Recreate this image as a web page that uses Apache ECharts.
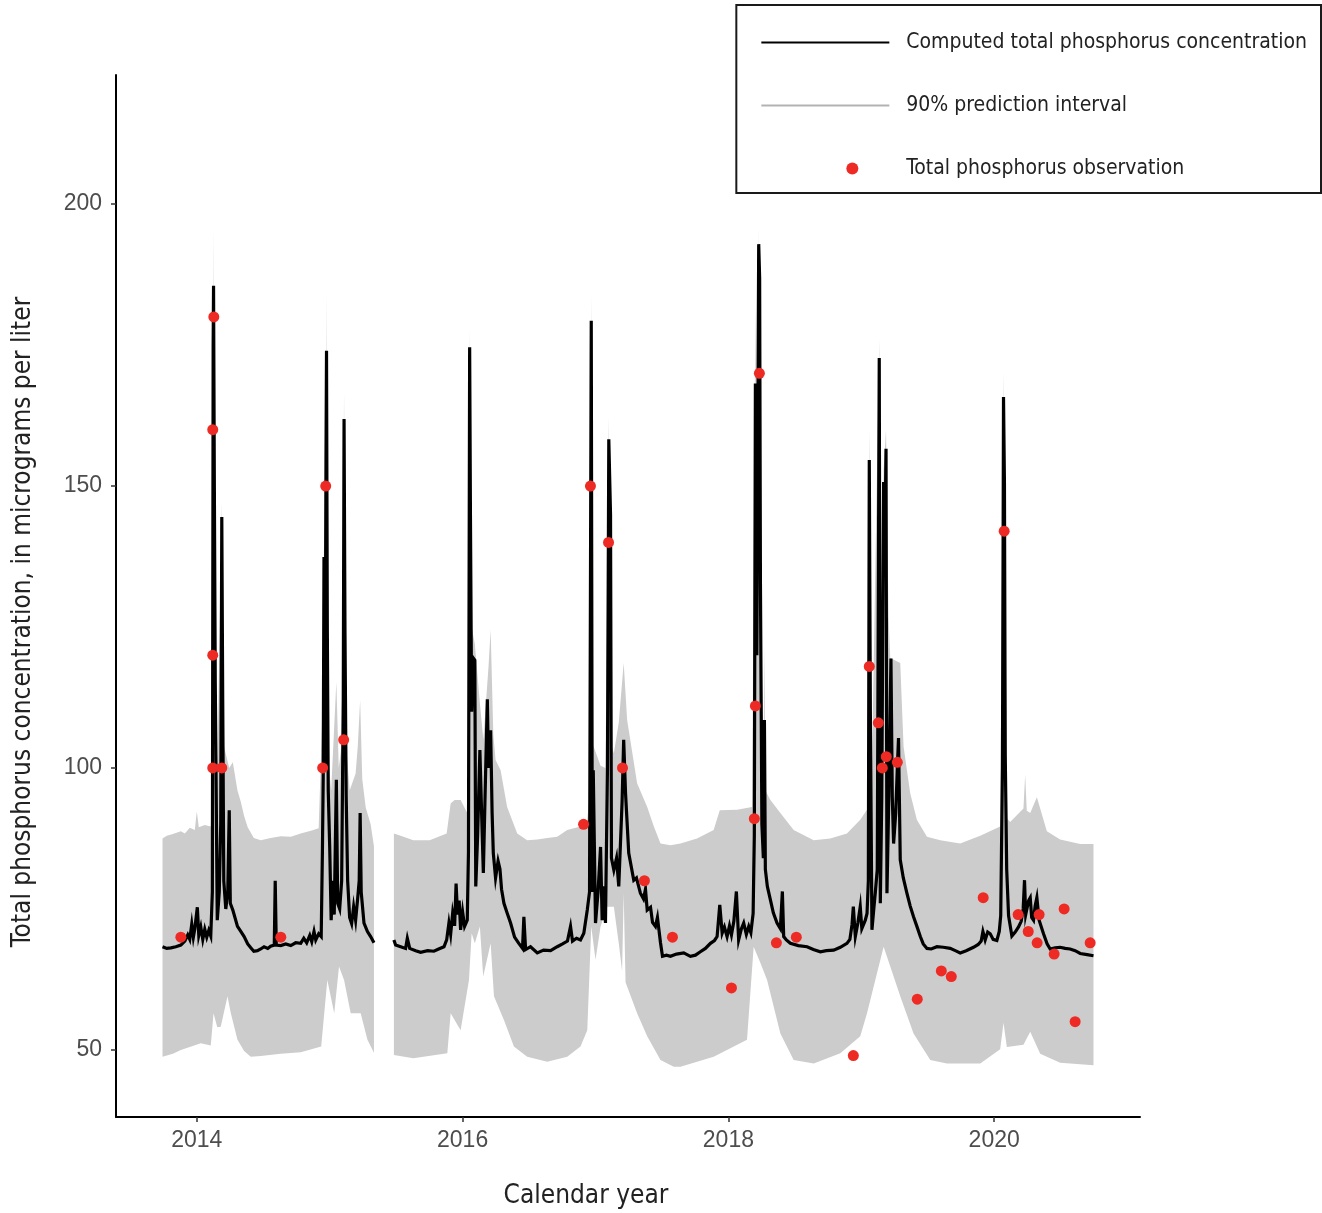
<!DOCTYPE html>
<html>
<head>
<meta charset="utf-8">
<script src="https://cdn.jsdelivr.net/npm/echarts@6/dist/echarts.min.js"></script>
<style>
  html, body { margin: 0; padding: 0; background: #fff; }
  #chart { width: 1322px; height: 1213px; }
</style>
</head>
<body>
<div id="chart"></div>
<script>
// computed total phosphorus concentration [decimal year, ug/L]
var computedSegA = [
  [2013.742, 68.3], [2013.774, 68.0], [2013.805, 68.1], [2013.842, 68.3], [2013.880, 68.6],
  [2013.910, 69.3], [2013.932, 70.4], [2013.947, 69.6], [2013.962, 72.3], [2013.974, 70.0],
  [2013.985, 71.5], [2014.004, 75.3], [2014.015, 70.3], [2014.030, 71.8], [2014.045, 69.6],
  [2014.060, 71.4], [2014.075, 70.0], [2014.090, 71.2], [2014.105, 70.2], [2014.117, 78.0],
  [2014.123, 174.7], [2014.126, 185.5], [2014.132, 150.0], [2014.139, 115.0], [2014.154, 73.0],
  [2014.169, 78.0], [2014.180, 90.0], [2014.188, 144.5], [2014.195, 112.0], [2014.203, 80.0],
  [2014.218, 75.0], [2014.233, 78.0], [2014.244, 92.5], [2014.252, 76.0], [2014.271, 74.8],
  [2014.306, 71.9], [2014.331, 71.0], [2014.356, 70.1], [2014.383, 68.8], [2014.406, 68.1],
  [2014.429, 67.5], [2014.456, 67.6], [2014.481, 67.9], [2014.506, 68.3], [2014.534, 68.0],
  [2014.556, 68.4], [2014.583, 68.6], [2014.590, 80.0], [2014.598, 68.6], [2014.632, 68.5],
  [2014.669, 68.8], [2014.707, 68.5], [2014.744, 69.0], [2014.782, 68.9], [2014.805, 69.8],
  [2014.827, 69.0], [2014.850, 70.3], [2014.865, 69.2], [2014.882, 71.0], [2014.895, 69.5],
  [2014.917, 70.6], [2014.936, 70.1], [2014.945, 85.0], [2014.951, 98.0], [2014.957, 137.4],
  [2014.964, 100.0], [2014.972, 155.0], [2014.976, 174.0], [2014.982, 124.8], [2014.989, 96.0],
  [2015.000, 86.0], [2015.011, 73.0], [2015.023, 80.0], [2015.034, 74.0], [2015.050, 97.9],
  [2015.060, 76.0], [2015.075, 75.0], [2015.090, 80.0], [2015.102, 112.0], [2015.108, 161.9],
  [2015.115, 124.0], [2015.124, 95.0], [2015.135, 80.0], [2015.150, 73.5], [2015.165, 72.4],
  [2015.180, 75.4], [2015.195, 73.0], [2015.211, 77.0], [2015.222, 80.0], [2015.229, 92.0],
  [2015.237, 78.0], [2015.258, 72.5], [2015.284, 71.0], [2015.308, 70.1], [2015.333, 69.0]
];
var computedSegB = [
  [2015.483, 69.5], [2015.496, 68.6], [2015.534, 68.3], [2015.571, 68.0], [2015.584, 69.8],
  [2015.602, 68.0], [2015.647, 67.6], [2015.684, 67.3], [2015.737, 67.6], [2015.784, 67.5],
  [2015.820, 67.9], [2015.860, 68.3], [2015.880, 69.5], [2015.897, 72.5], [2015.910, 70.5],
  [2015.925, 74.2], [2015.940, 72.0], [2015.951, 79.5], [2015.962, 74.0], [2015.974, 76.5],
  [2015.985, 71.3], [2016.000, 74.5], [2016.015, 71.9], [2016.035, 73.0], [2016.044, 85.0],
  [2016.048, 124.5], [2016.053, 174.6], [2016.059, 144.6], [2016.068, 110.0], [2016.080, 119.5],
  [2016.092, 119.1], [2016.099, 79.0], [2016.113, 88.0], [2016.130, 103.2], [2016.143, 92.0],
  [2016.156, 81.4], [2016.169, 95.0], [2016.186, 112.2], [2016.195, 100.0], [2016.211, 106.7],
  [2016.222, 92.0], [2016.231, 84.9], [2016.248, 80.5], [2016.267, 83.5], [2016.281, 82.1],
  [2016.293, 78.5], [2016.311, 76.0], [2016.335, 74.3], [2016.361, 72.5], [2016.391, 70.0],
  [2016.423, 68.9], [2016.451, 68.0], [2016.461, 73.6], [2016.474, 67.8], [2016.511, 68.3],
  [2016.562, 67.2], [2016.609, 67.7], [2016.662, 67.6], [2016.712, 68.3], [2016.752, 68.8],
  [2016.789, 69.3], [2016.812, 71.9], [2016.827, 69.3], [2016.857, 69.8], [2016.887, 69.5],
  [2016.912, 70.7], [2016.938, 74.8], [2016.955, 78.0], [2016.968, 179.3], [2016.976, 78.0],
  [2016.983, 99.6], [2017.000, 72.5], [2017.019, 78.0], [2017.038, 86.0], [2017.050, 73.0],
  [2017.062, 79.0], [2017.075, 72.5], [2017.090, 100.0], [2017.100, 158.3], [2017.113, 145.0],
  [2017.120, 84.0], [2017.138, 81.9], [2017.158, 84.0], [2017.175, 79.0], [2017.200, 94.0],
  [2017.212, 105.0], [2017.226, 95.5], [2017.250, 84.9], [2017.288, 80.1], [2017.308, 80.5],
  [2017.338, 77.8], [2017.361, 76.8], [2017.376, 78.5], [2017.389, 74.8], [2017.414, 75.3],
  [2017.429, 72.6], [2017.451, 71.9], [2017.466, 73.5], [2017.489, 69.0], [2017.504, 66.6],
  [2017.534, 66.8], [2017.564, 66.6], [2017.609, 67.0], [2017.664, 67.2], [2017.714, 66.6],
  [2017.752, 66.8], [2017.789, 67.4], [2017.827, 68.0], [2017.865, 68.9], [2017.895, 69.4],
  [2017.915, 70.1], [2017.935, 75.7], [2017.953, 70.7], [2017.970, 71.8], [2017.990, 70.1],
  [2018.008, 72.0], [2018.023, 70.4], [2018.041, 72.8], [2018.060, 78.1], [2018.077, 69.5],
  [2018.098, 71.5], [2018.115, 72.5], [2018.135, 70.5], [2018.153, 71.9], [2018.169, 70.8],
  [2018.186, 74.2], [2018.195, 88.0], [2018.203, 168.2], [2018.214, 120.0], [2018.221, 160.0],
  [2018.228, 192.9], [2018.235, 186.9], [2018.241, 132.7], [2018.252, 90.0], [2018.263, 84.0],
  [2018.271, 108.5], [2018.278, 82.0], [2018.293, 79.0], [2018.316, 76.6], [2018.338, 74.3],
  [2018.366, 72.5], [2018.391, 71.5], [2018.406, 78.1], [2018.416, 70.1], [2018.436, 69.5],
  [2018.466, 68.9], [2018.526, 68.5], [2018.592, 68.3], [2018.639, 67.8], [2018.692, 67.4],
  [2018.737, 67.6], [2018.792, 67.7], [2018.842, 68.2], [2018.892, 68.9], [2018.914, 69.6],
  [2018.930, 72.2], [2018.940, 75.4], [2018.955, 70.1], [2018.974, 72.5], [2018.992, 75.4],
  [2019.004, 71.5], [2019.017, 71.3], [2019.030, 73.0], [2019.043, 74.2], [2019.053, 80.0],
  [2019.060, 154.6], [2019.068, 110.0], [2019.080, 71.3], [2019.094, 75.0], [2019.105, 77.8],
  [2019.120, 82.0], [2019.135, 172.7], [2019.143, 76.0], [2019.154, 95.0], [2019.168, 150.7],
  [2019.175, 135.0], [2019.186, 156.6], [2019.193, 77.8], [2019.207, 95.0], [2019.223, 119.4],
  [2019.233, 95.0], [2019.243, 86.6], [2019.259, 92.0], [2019.271, 100.0], [2019.280, 105.3],
  [2019.293, 83.7], [2019.316, 80.5], [2019.343, 77.8], [2019.368, 75.5], [2019.393, 73.6],
  [2019.417, 72.0], [2019.444, 70.1], [2019.466, 68.8], [2019.494, 68.0], [2019.526, 67.9],
  [2019.569, 68.3], [2019.617, 68.2], [2019.669, 68.0], [2019.707, 67.6], [2019.744, 67.2],
  [2019.789, 67.6], [2019.844, 68.2], [2019.880, 68.7], [2019.902, 69.3], [2019.915, 71.0],
  [2019.932, 69.5], [2019.951, 70.9], [2019.970, 70.6], [2019.992, 69.6], [2020.020, 69.4],
  [2020.038, 71.0], [2020.049, 73.8], [2020.062, 100.0], [2020.070, 165.8], [2020.077, 150.6],
  [2020.083, 102.3], [2020.094, 82.0], [2020.108, 73.8], [2020.133, 70.2], [2020.158, 70.9],
  [2020.183, 71.8], [2020.203, 72.8], [2020.218, 75.0], [2020.228, 80.1], [2020.237, 74.0],
  [2020.246, 73.8], [2020.259, 76.5], [2020.271, 77.0], [2020.282, 73.5], [2020.296, 73.0],
  [2020.308, 75.5], [2020.321, 77.0], [2020.338, 73.0], [2020.371, 70.6], [2020.398, 68.8],
  [2020.421, 67.9], [2020.459, 68.1], [2020.496, 68.2], [2020.534, 68.0], [2020.571, 67.9],
  [2020.609, 67.6], [2020.647, 67.1], [2020.699, 66.9], [2020.747, 66.7]
];

// 90% prediction interval, upper and lower bounds [decimal year, ug/L]
var upperSegA = [
  [2013.742, 87.5], [2013.774, 88.0], [2013.820, 88.3], [2013.880, 88.8], [2013.910, 88.4],
  [2013.947, 89.4], [2013.985, 89.0], [2014.000, 92.3], [2014.015, 89.5], [2014.060, 89.9],
  [2014.105, 89.6], [2014.117, 95.0], [2014.126, 195.7], [2014.139, 120.0], [2014.154, 100.0],
  [2014.188, 147.0], [2014.203, 104.0], [2014.244, 100.0], [2014.271, 101.0], [2014.306, 96.0],
  [2014.331, 94.0], [2014.356, 91.5], [2014.383, 89.5], [2014.429, 87.6], [2014.481, 87.2],
  [2014.556, 87.6], [2014.632, 87.9], [2014.707, 87.8], [2014.782, 88.4], [2014.865, 88.9],
  [2014.917, 89.3], [2014.945, 109.7], [2014.957, 140.0], [2014.966, 105.0], [2014.976, 184.2],
  [2014.989, 102.0], [2015.011, 96.0], [2015.050, 115.3], [2015.068, 100.0], [2015.090, 104.0],
  [2015.108, 166.7], [2015.124, 104.0], [2015.150, 96.0], [2015.195, 99.0], [2015.211, 103.8],
  [2015.229, 112.0], [2015.245, 98.0], [2015.271, 93.0], [2015.308, 90.0], [2015.333, 86.1]
];
var lowerSegA = [
  [2013.742, 48.8], [2013.820, 49.3], [2013.880, 50.0], [2013.947, 50.5], [2014.030, 51.2],
  [2014.105, 50.8], [2014.126, 56.5], [2014.154, 54.0], [2014.180, 54.1], [2014.231, 59.5],
  [2014.256, 56.5], [2014.306, 51.8], [2014.356, 49.8], [2014.406, 48.8], [2014.481, 48.9],
  [2014.632, 49.3], [2014.782, 49.6], [2014.936, 50.6], [2014.982, 62.4], [2015.034, 56.5],
  [2015.070, 64.8], [2015.108, 62.4], [2015.158, 56.5], [2015.233, 56.5], [2015.284, 51.8],
  [2015.333, 49.5]
];
var upperSegB = [
  [2015.483, 88.4], [2015.534, 88.0], [2015.629, 87.2], [2015.752, 87.2], [2015.880, 88.4],
  [2015.910, 93.7], [2015.940, 94.3], [2015.985, 94.3], [2016.035, 92.0], [2016.048, 130.0],
  [2016.053, 178.0], [2016.068, 125.0], [2016.092, 122.0], [2016.130, 111.5], [2016.156, 105.0],
  [2016.195, 118.0], [2016.211, 124.5], [2016.231, 106.0], [2016.248, 101.4], [2016.286, 99.6],
  [2016.335, 93.1], [2016.411, 88.4], [2016.486, 87.2], [2016.562, 87.3], [2016.637, 87.6],
  [2016.712, 87.8], [2016.787, 89.0], [2016.887, 89.6], [2016.938, 90.8], [2016.955, 95.0],
  [2016.968, 184.0], [2016.983, 104.0], [2017.038, 100.4], [2017.075, 100.0], [2017.100, 162.3],
  [2017.120, 104.0], [2017.138, 102.6], [2017.175, 108.0], [2017.212, 118.6], [2017.238, 108.5],
  [2017.313, 97.3], [2017.389, 93.1], [2017.439, 89.6], [2017.489, 86.6], [2017.564, 86.3],
  [2017.639, 86.6], [2017.764, 87.5], [2017.889, 89.0], [2017.935, 92.5], [2018.065, 92.6],
  [2018.178, 93.1], [2018.203, 182.0], [2018.214, 130.0], [2018.228, 196.0], [2018.241, 138.0],
  [2018.263, 96.7], [2018.271, 121.5], [2018.278, 96.0], [2018.316, 94.3], [2018.391, 92.0],
  [2018.491, 89.0], [2018.642, 87.2], [2018.767, 87.5], [2018.892, 88.4], [2018.992, 90.8],
  [2019.043, 92.6], [2019.060, 160.0], [2019.080, 100.0], [2019.135, 176.0], [2019.150, 110.0],
  [2019.168, 153.0], [2019.186, 160.0], [2019.205, 126.8], [2019.218, 119.5], [2019.293, 118.6],
  [2019.318, 103.8], [2019.368, 95.5], [2019.418, 90.8], [2019.494, 87.8], [2019.594, 87.2],
  [2019.744, 86.6], [2019.895, 88.0], [2020.045, 89.6], [2020.070, 170.0], [2020.098, 91.0],
  [2020.120, 90.4], [2020.220, 92.8], [2020.233, 98.8], [2020.245, 92.4], [2020.271, 92.0],
  [2020.321, 94.8], [2020.396, 88.8], [2020.496, 87.3], [2020.647, 86.5], [2020.747, 86.5]
];
var lowerSegB = [
  [2015.483, 49.1], [2015.629, 48.5], [2015.885, 49.4], [2015.910, 56.5], [2015.985, 53.5],
  [2016.048, 62.4], [2016.068, 70.7], [2016.092, 68.9], [2016.130, 71.9], [2016.155, 63.0],
  [2016.211, 68.9], [2016.236, 59.5], [2016.311, 55.3], [2016.386, 50.6], [2016.486, 48.8],
  [2016.637, 47.9], [2016.787, 48.8], [2016.887, 50.6], [2016.938, 53.5], [2016.968, 71.9],
  [2017.000, 66.0], [2017.038, 71.9], [2017.088, 75.4], [2017.138, 75.4], [2017.175, 68.9],
  [2017.200, 64.0], [2017.212, 77.8], [2017.226, 62.0], [2017.313, 56.5], [2017.389, 52.4],
  [2017.489, 48.2], [2017.589, 47.0], [2017.639, 47.0], [2017.889, 48.8], [2018.140, 51.8],
  [2018.190, 68.3], [2018.241, 65.4], [2018.291, 62.4], [2018.391, 52.9], [2018.491, 48.2],
  [2018.642, 47.6], [2018.842, 49.4], [2018.992, 52.4], [2019.043, 56.5], [2019.118, 63.6],
  [2019.168, 68.3], [2019.218, 64.8], [2019.293, 59.5], [2019.393, 52.9], [2019.519, 48.2],
  [2019.644, 47.6], [2019.895, 47.6], [2020.045, 50.1], [2020.070, 54.8], [2020.095, 50.5],
  [2020.220, 50.9], [2020.271, 53.2], [2020.346, 49.3], [2020.496, 47.7], [2020.747, 47.3]
];

// total phosphorus observations [decimal year, ug/L]
var observations = [
  [2013.880, 70], [2014.128, 180], [2014.120, 160], [2014.120, 120], [2014.120, 100],
  [2014.188, 100], [2014.632, 70], [2014.947, 100], [2014.970, 150], [2015.105, 105],
  [2016.910, 90], [2016.962, 150], [2017.098, 140], [2017.203, 100], [2017.368, 80],
  [2017.579, 70], [2018.023, 61], [2018.195, 91], [2018.203, 111], [2018.233, 170],
  [2018.361, 69], [2018.511, 70], [2018.940, 49], [2019.060, 118], [2019.128, 108],
  [2019.158, 100], [2019.188, 102], [2019.271, 101], [2019.421, 59], [2019.602, 64],
  [2019.677, 63], [2019.917, 77], [2020.075, 142], [2020.180, 74], [2020.256, 71],
  [2020.323, 69], [2020.338, 74], [2020.451, 67], [2020.526, 75], [2020.609, 55],
  [2020.722, 69]
];

var xTicks = [2014, 2016, 2018, 2020];
var yTicks = [50, 100, 150, 200];

// record gap between the two monitoring periods
var GAP = [2015.41, null];
var computed = computedSegA.concat([GAP], computedSegB);
var bandSegments = [
  { upper: upperSegA, lower: lowerSegA },
  { upper: upperSegB, lower: lowerSegB },
];

var condensed = "'Liberation Sans Narrow', 'DejaVu Sans Condensed', 'Arial Narrow', sans-serif";
var tickFont = "'Liberation Sans', Arial, sans-serif";
var hidden = { color: "rgba(0,0,0,0)", borderWidth: 0 };

function renderBand(params, api) {
  var seg = bandSegments[params.dataIndex];
  var pts = seg.upper.map(function (p) { return api.coord(p); });
  var back = seg.lower.slice().reverse();
  for (var i = 0; i < back.length; i++) {
    pts.push(api.coord(back[i]));
  }
  return {
    type: "polygon",
    shape: { points: pts },
    style: { fill: "#cccccc", stroke: null },
  };
}

var myChart = echarts.init(document.getElementById("chart"));
var option = {
  animation: false,
  backgroundColor: "#ffffff",
  grid: { left: 116, right: 182, top: 75, bottom: 96, outerBoundsMode: "none" },
  legend: {
    orient: "vertical",
    right: 1,
    top: 5,
    borderColor: "#1a1a1a",
    borderWidth: 2,
    padding: [27, 14, 14, 24],
    itemWidth: 128,
    itemHeight: 12,
    itemGap: 42,
    textStyle: {
      fontFamily: condensed,
      fontSize: 21,
      color: "#222",
      padding: [0, 0, 0, 12],
    },
    data: [
      { name: "Computed total phosphorus concentration", itemStyle: hidden, lineStyle: { color: "#000", width: 2 } },
      { name: "90% prediction interval", icon: "path://M0,0H128V2H0Z", itemStyle: { color: "#b3b3b3" } },
      // dot sits right of centre in the key, as in the printed figure
      { name: "Total phosphorus observation", icon: "path://M0,0M128,12M85,6a6,6 0 1,0 12,0a6,6 0 1,0 -12,0Z" },
    ],
  },
  xAxis: {
    type: "value",
    min: 2013.392,
    max: 2021.097,
    z: 10,
    name: "Calendar year",
    nameLocation: "middle",
    nameGap: 66,
    nameTextStyle: { fontFamily: condensed, fontSize: 26, color: "#222", padding: [0, 84, 0, 0] },
    splitLine: { show: false },
    axisLine: { onZero: false, lineStyle: { color: "#000", width: 2 } },
    axisTick: { customValues: xTicks, length: 5, lineStyle: { color: "#333", width: 1.5 } },
    axisLabel: {
      customValues: xTicks,
      margin: 12,
      fontFamily: tickFont,
      fontSize: 23,
      color: "#4d4d4d",
      formatter: function (v) { return String(Math.round(v)); },
    },
  },
  yAxis: {
    type: "value",
    min: 38.1,
    max: 222.9,
    z: 10,
    name: "Total phosphorus concentration, in micrograms per liter",
    nameLocation: "middle",
    nameGap: 80,
    nameTextStyle: { fontFamily: condensed, fontSize: 26, color: "#222", padding: [0, 52, 0, 0] },
    splitLine: { show: false },
    axisLine: { onZero: false, lineStyle: { color: "#000", width: 2 } },
    axisTick: { customValues: yTicks, length: 5, lineStyle: { color: "#333", width: 1.5 } },
    axisLabel: {
      customValues: yTicks,
      margin: 14,
      fontFamily: tickFont,
      fontSize: 23,
      color: "#4d4d4d",
    },
  },
  series: [
    {
      name: "90% prediction interval",
      type: "custom",
      renderItem: renderBand,
      // one item per monitoring period, anchored at the first lower-bound point
      data: [lowerSegA[0], lowerSegB[0]],
      itemStyle: { color: "#cccccc" },
      z: 1,
    },
    {
      name: "Computed total phosphorus concentration",
      type: "line",
      data: computed,
      symbol: "none",
      z: 3,
      lineStyle: { width: 3.2, color: "#000000", join: "miter" },
      itemStyle: { color: "#000000" },
    },
    {
      name: "Total phosphorus observation",
      type: "scatter",
      data: observations,
      symbol: "circle",
      symbolSize: 11,
      z: 4,
      itemStyle: { color: "#ee2a24", opacity: 1 },
    },
  ],
};
myChart.setOption(option);
window.addEventListener("resize", function () {
  myChart.resize();
});
</script>
</body>
</html>
